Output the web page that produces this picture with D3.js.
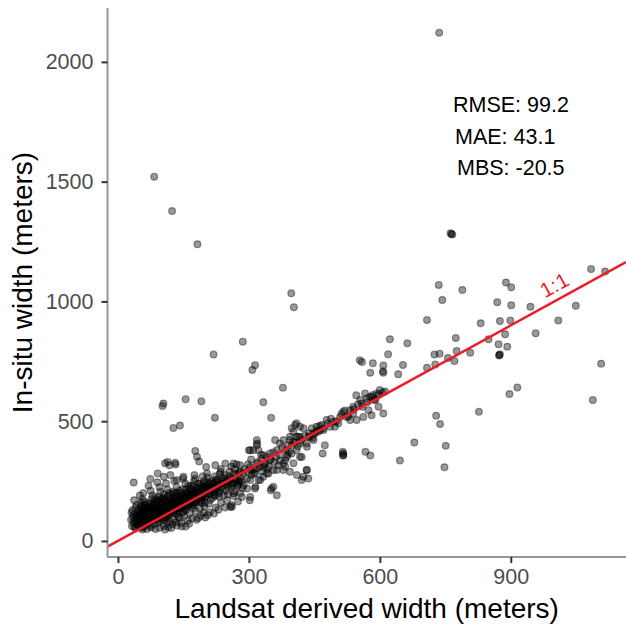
<!DOCTYPE html>
<html>
<head>
<meta charset="utf-8">
<script src="https://cdn.jsdelivr.net/npm/d3@7.9.0/dist/d3.min.js"></script>
<style>
  body { margin: 0; background: #fff; }
  svg { display: block; font-family: "Liberation Sans", Arial, sans-serif; }
</style>
</head>
<body>
<div id="chart"></div>
<script>
const xTicks = [0, 300, 600, 900];
const yTicks = [0, 500, 1000, 1500, 2000];
const statLabels = ['RMSE: 99.2', 'MAE: 43.1', 'MBS: -20.5'];
const oneToOne = [[-24, -24], [1164, 1164]];

// dense cluster near the origin
const clusterPoints = [
  [32,62],[35,75],[30,88],[38,58],[41,95],[36,110],[44,70],[33,128],[40,140],[45,120],[38,84],[42,105],[47,60],[34,100],[43,150],[37,170],[46,88],[31,118],[48,132],[40,52],
  [50,65],[52,80],[55,95],[51,110],[58,72],[54,125],[60,88],[57,140],[62,104],[53,160],[59,58],[64,118],[56,175],[61,150],[63,70],[50,190],[65,135],[58,200],[52,145],[60,165],[55,55],[63,92],[66,80],
  [68,75],[70,98],[72,115],[69,130],[74,85],[76,145],[71,160],[78,105],[80,122],[73,62],[82,95],[77,175],[84,138],[79,190],[75,210],[83,155],[81,70],[86,112],[70,230],[85,180],[74,125],[78,88],[80,100],[72,140],
  [88,90],[90,110],[92,128],[89,150],[94,100],[96,165],[91,75],[98,140],[100,120],[93,185],[97,205],[102,95],[99,155],[104,175],[95,225],[101,108],[103,135],[90,245],[106,88],[105,195],[92,115],[98,130],[88,170],[100,150],[95,82],
  [108,110],[110,130],[112,150],[109,170],[115,120],[114,185],[117,140],[111,95],[120,160],[118,200],[122,135],[116,105],[124,175],[113,215],[121,150],[119,118],[125,195],[110,240],[123,125],[115,160],
  [127,120],[130,145],[128,165],[133,180],[135,135],[131,200],[138,155],[136,112],[140,170],[134,225],[142,190],[139,140],[144,160],[129,250],[141,210],[137,125],[145,180],[132,160],[143,140],
  [147,150],[150,170],[148,190],[153,160],[155,200],[152,135],[158,180],[156,215],[160,165],[154,240],[162,195],[159,145],[164,220],[150,125],[157,175],[163,170],[149,260],[161,230],
  [167,175],[170,195],[168,215],[173,185],[175,160],[172,230],[178,205],[176,175],[180,220],[174,250],[182,190],[179,165],[184,240],[169,150],[183,210],[177,260],[185,180],
  [187,200],[190,215],[188,240],[193,190],[195,225],[192,170],[198,250],[196,205],[200,230],[194,270],[203,210],[201,185],[206,245],[208,220],[205,265],[209,195],[199,160],
  [212,225],[215,250],[218,205],[220,240],[222,270],[225,215],[228,255],[224,190],[230,235],[233,280],[235,220],[238,250],[232,200],[240,265],[217,180],[236,300],
  [243,240],[246,275],[250,255],[252,225],[255,290],[258,260],[262,240],[265,280],[268,300],[270,255],[274,230],[277,285],[280,265],[248,210],[260,310],[272,320],[278,250],
  [95,55],[105,62],[115,58],[125,70],[135,65],[145,75],[155,60],[160,85],[170,95],[180,88],[190,105],[200,98],[210,120],[220,115],[230,130],[245,140],[260,150],[275,165],
  [112,75],[128,88],[142,95],[152,105],[165,115],[178,125],[188,135],[198,145],[208,155],[118,82],[138,100],[148,118],[172,138],[192,158],[212,172],[232,185],[252,195],[268,205],[285,220],
  [108,48],[86,50],[66,50],[76,56],[56,48],[122,54],[132,78],[146,60],[163,72],[184,96],[196,118],[206,108],[224,140],[236,160],[250,170],[265,188],[280,200],
  [62,120],[68,110],[75,100],[82,128],[88,120],[94,140],[100,135],[106,125],[112,140],[118,150],[124,160],[130,170],[136,160],[142,175],[148,170],[154,185],[160,190],[166,200],
  [172,195],[178,190],[184,205],[190,200],[196,220],[202,215],[208,235],[214,230],[220,225],[226,245],[110,115],[120,125],[130,130],[140,150],[150,150],[160,155],[170,170],
  [180,180],[190,185],[200,200],[210,210],[220,205],[45,100],[50,115],[55,110],[60,125],[65,100],[70,85],[78,120],[85,100],
  [42,80],[46,95],[48,110],[52,92],[54,75],[56,120],[58,100],[60,140],[62,85],[64,150],[66,115],[68,95],[70,135],[72,78],[74,155],[76,110],[78,140],[80,85],[82,160],
  [84,115],[86,145],[88,105],[90,130],[92,170],[94,118],[96,92],[98,175],[100,105],[102,160],[104,140],[106,180],[108,130],[110,100],[112,165],[114,140],[116,190],
  [118,112],[120,145],[122,175],[124,135],[126,205],[128,150],[130,115],[132,185],[134,145],[136,200],[138,170],[140,135],[142,160],[144,200],[146,140],[148,215],
  [150,180],[152,155],[154,170],[156,130],[158,200],[160,175],[162,145],[164,185],[166,160],[168,230],[170,180],[172,150],[174,210],[176,190],[178,160],[180,200],
  [182,175],[184,220],[186,190],[188,165],[190,230],[192,205],[194,180],[196,240],[198,215],[200,185],[204,225],[208,200],[212,240],[216,215],[220,190],[224,255],
  [228,230],[232,210],[236,240],[240,225],[244,260],[248,235],[252,245],[256,270],[260,225],[264,260],[268,240],[272,280],[276,235],[280,290],[284,250]
];

// the band that follows the 1:1 line
const bandPoints = [
  [546,608],[566,616],[578,602],[593,616],[612,624],[587,588],[597,560],[608,532],[574,546],[555,588],[581,525],[562,518],[539,532],[532,505],[547,505],[516,539],[509,518],
  [478,505],[467,484],[455,477],[444,470],[459,456],[471,463],[486,477],[497,477],[505,491],[425,470],[409,435],[398,470],[409,491],[394,435],[379,421],[371,407],[360,421],
  [364,379],[348,365],[341,351],[329,344],[318,421],[310,379],[318,323],[306,296],[322,254],[333,268],[345,282],[356,296],[367,316],[379,323],[387,351],[398,365],[409,379],
  [417,407],[421,351],[432,407],[440,435],[451,449],[474,400],[469,365],[432,296],[425,268],[436,261],[379,296],[394,289],[383,337],[352,219],[364,191],[516,365],[516,358],
  [494,498],[524,518],[532,546],[539,560],[558,574],[570,595],[584,609],[600,630],[463,463],[448,449],[436,435],[417,435],[402,414],[390,400],[348,337],[337,323],[325,310],[314,282],
  [287,282],[318,302],[341,282],[364,296],[383,310],[402,324],[417,351],[433,393],[448,421],[406,484],[417,477],[402,456],[413,435],[394,421],[410,275],[433,296],[421,254],
  [356,226],[350,212],[302,170],[314,219],[257,142],[300,379],[318,400],[108,324],[118,316],[131,326],
  [280,316],[303,309],[319,407],[322,379],[303,379],[334,358],[296,219],[315,226],[303,254],[265,198],[242,191],[326,254],[334,309],[277,247],[296,289],[311,282],
  [177,376],[181,352],[186,332],[114,330],[132,319],[74,259],[91,282],[105,268],[120,275],[135,254],[150,268],[202,309],[223,316],[246,323],[265,323],[175,275],[204,282],[235,289],
  [261,233],[288,233],[284,184],[303,184],[261,142],
  [290,300],[298,320],[305,340],[312,300],[320,330],[328,360],[335,320],[342,300],[350,340],[356,370],[362,350],[370,360],[376,390],[384,380],[392,370],[398,400],[405,410],
  [412,395],[420,420],[428,440],[438,450],[446,430],[455,460],[462,480],[470,470],[480,490],[488,510],[500,500],[512,530],[520,545],[528,520],[540,550],[550,570],[560,560],
  [572,580],[582,600],[590,590],[598,610],[606,620],[296,260],[306,275],[330,290],[346,310],[358,330],[372,335],[388,360]
];

// scattered points away from the line
const outlierPoints = [
  [83,1520],[124,1377],[182,1239],[397,1034],[403,976],[736,2122],[764,1282],[762,1285],[766,1279],[735,1069],[743,1006],[789,1048],[889,1079],[901,1059],[869,997],[901,984],
  [945,978],[1049,982],[1084,1135],[1116,1125],[708,922],[831,909],[875,918],[899,920],[1009,920],
  [774,847],[849,842],[887,863],[872,821],[892,811],[874,776],[875,779],[873,774],[957,867],[776,793],[807,786],[725,778],[737,782],[756,764],[771,751],[708,723],[727,737],
  [1107,740],[915,641],[897,613],[1088,588],[827,539],[729,523],[738,488],[751,397],[748,308],
  [623,842],[663,825],[619,779],[554,754],[559,747],[584,742],[578,702],[608,733],[607,708],[608,702],[653,735],[642,696],[679,411],[646,336],[567,372],[578,357],[515,372],[516,357],
  [286,832],[219,778],[308,714],[314,734],[378,640],[155,592],[191,583],[104,574],[102,563],[222,514],[333,579],[351,514],[127,472],[142,482],[36,244]
];

const points = [...clusterPoints, ...bandPoints, ...outlierPoints];

const width = 626;
const height = 627;
const panel = { left: 107.5, right: 626, top: 8, bottom: 557 };

const svg = d3.select('#chart')
  .append('svg')
  .attr('width', width)
  .attr('height', height);

const x = d3.scaleLinear()
  .domain([-24, 1164])
  .range([panel.left, panel.right]);

const y = d3.scaleLinear()
  .domain([-67, 2225])
  .range([panel.bottom, panel.top]);

// points
svg.append('g')
  .selectAll('circle')
  .data(points)
  .join('circle')
  .attr('cx', (d) => x(d[0]))
  .attr('cy', (d) => y(d[1]))
  .attr('r', 3.4)
  .attr('fill', '#000')
  .attr('fill-opacity', 0.4)
  .attr('stroke', '#000')
  .attr('stroke-opacity', 0.4)
  .attr('stroke-width', 1.2);

// 1:1 line
svg.append('path')
  .datum(oneToOne)
  .attr('d', d3.line().x((d) => x(d[0])).y((d) => y(d[1])))
  .attr('stroke', '#ec1c24')
  .attr('stroke-width', 2.5)
  .attr('fill', 'none');

const angle = -Math.atan2(y(0) - y(1000), x(1000) - x(0)) * 180 / Math.PI;
svg.append('text')
  .attr('transform', `translate(${x(1008)},${y(1008) - 8}) rotate(${angle})`)
  .attr('text-anchor', 'middle')
  .attr('fill', '#ec1c24')
  .style('font-size', '21px')
  .text('1:1');

// stats
const statX = [453, 455, 457];
const statY = [112, 143.5, 175];
svg.append('g')
  .selectAll('text')
  .data(statLabels)
  .join('text')
  .attr('x', (d, i) => statX[i])
  .attr('y', (d, i) => statY[i])
  .attr('fill', '#000')
  .style('font-size', '21.5px')
  .text((d) => d);

// axes
const xAxis = svg.append('g')
  .attr('transform', `translate(0,${panel.bottom})`)
  .call(d3.axisBottom(x).tickValues(xTicks).tickFormat(d3.format('d')).tickSize(6).tickPadding(6));

const yAxis = svg.append('g')
  .attr('transform', `translate(${panel.left},0)`)
  .call(d3.axisLeft(y).tickValues(yTicks).tickFormat(d3.format('d')).tickSize(6).tickPadding(8));

[xAxis, yAxis].forEach((g) => {
  g.select('.domain').attr('stroke', '#959595').attr('stroke-width', 2);
  g.selectAll('.tick line').attr('stroke', '#333').attr('stroke-width', 2);
  g.selectAll('.tick text')
    .attr('fill', '#4d4d4d')
    .style('font-size', '21.5px')
    .style('font-family', '"Liberation Sans", Arial, sans-serif');
});
xAxis.select('.domain').attr('d', `M${panel.left},0H${panel.right}`);
yAxis.select('.domain').attr('d', `M0,${panel.top}V${panel.bottom}`);

// titles
svg.append('text')
  .attr('x', (panel.left + panel.right) / 2)
  .attr('y', 618)
  .attr('text-anchor', 'middle')
  .style('font-size', '28px')
  .text('Landsat derived width (meters)');

svg.append('text')
  .attr('transform', `translate(32,${(panel.top + panel.bottom) / 2}) rotate(-90)`)
  .attr('text-anchor', 'middle')
  .style('font-size', '28px')
  .text('In-situ width (meters)');
</script>
</body>
</html>
